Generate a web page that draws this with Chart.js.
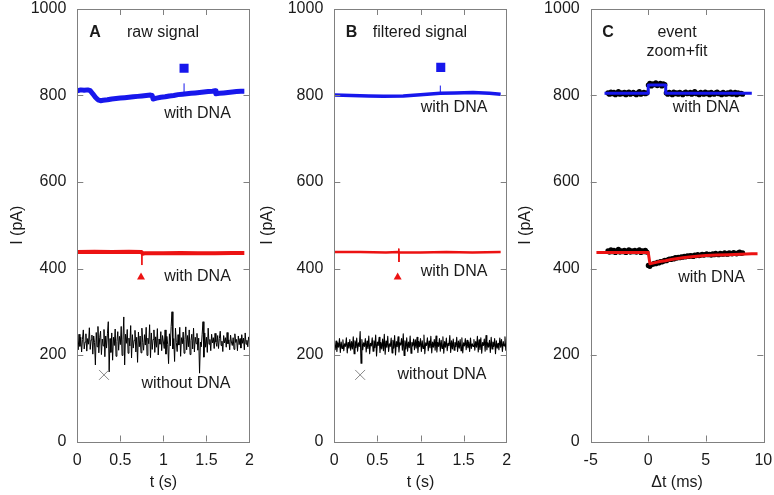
<!DOCTYPE html>
<html>
<head>
<meta charset="utf-8">
<script src="https://cdn.jsdelivr.net/npm/chart.js@4.4.0/dist/chart.umd.min.js"></script>
<style>
  html, body { margin: 0; padding: 0; background: #fff; }
  #wrap { position: relative; width: 774px; height: 495px; overflow: hidden; }
  canvas { position: absolute; top: 0; }
</style>
</head>
<body>
<div id="wrap">
  <canvas id="panelA" width="262" height="495" style="left:0px"></canvas>
  <canvas id="panelB" width="262" height="495" style="left:256px"></canvas>
  <canvas id="panelC" width="260" height="495" style="left:514px"></canvas>
</div>
<script>
/* ---- tick labels ---- */
var xTicksT = ['0', '0.5', '1', '1.5', '2'];
var xTicksDt = ['-5', '0', '5', '10'];
var yTicks = ['0', '200', '400', '600', '800', '1000'];

/* ---- A: raw signal ---- */
var rawBlueT = [0,0.04,0.08,0.12,0.15,0.18,0.21,0.24,0.27,0.30,0.35,0.40,0.45,0.50,0.55,0.60,0.65,0.70,0.75,0.80,0.85,0.87,0.88,0.92,0.97,1.02,1.07,1.12,1.17,1.22,1.27,1.32,1.37,1.42,1.47,1.52,1.57,1.60,1.61,1.65,1.70,1.75,1.80,1.85,1.90,1.94];
var rawBlueI = [811,813,812,813,811,804,796,790,788,789,790,792,793,794,795,796,797,798,799,800,801,800,792,794,796,797,799,800,802,803,804,805,806,807,808,809,810,811,804,805,806,807,808,809,810,810];
var rawBlueSpikeT = [1.24, 1.24];
var rawBlueSpikeI = [805, 828];

var rawRedT = [0,0.2,0.4,0.6,0.745,0.76,0.78,1.0,1.2,1.4,1.6,1.8,1.94];
var rawRedI = [438,439,438,439,438,434,435,435,436,435,435,436,436];
var rawRedSpikeT = [0.75, 0.75];
var rawRedSpikeI = [438, 408];

var rawBlackDt = 0.01;
var rawBlackI = [
  232,212,248,220,241,207,236,258,214,230,
  249,209,238,225,263,213,235,246,202,244,
  229,177,252,219,266,205,240,255,201,237,
  221,259,196,244,216,249,277,161,238,206,
  251,188,241,222,260,197,231,254,211,243,
  224,266,199,235,288,177,248,227,259,204,
  239,221,268,193,247,216,234,257,207,241,
  183,253,219,244,205,262,229,211,247,223,
  264,199,239,226,270,194,251,213,236,258,
  206,242,218,261,200,237,225,254,210,245,
  230,215,258,202,243,224,180,249,221,266,
  300,214,238,185,262,229,208,247,223,264,
  197,240,226,253,204,236,265,212,245,219,
  258,201,233,248,214,262,207,241,226,250,
  211,239,158,230,219,248,277,195,251,218,
  241,206,262,225,236,210,248,228,240,215,
  250,230,220,245,215,238,255,222,232,208,
  245,228,240,218,252,226,235,212,246,230,
  222,240,213,249,229,236,210,244,224,238,
  216,247,227,239,212,251,225,234,219,242
];

/* ---- B: filtered signal ---- */
var filtBlueT = [0,0.2,0.4,0.57,0.8,1.0,1.23,1.4,1.61,1.8,1.93];
var filtBlueI = [801,800,799,798,799,802,805,806,807,805,803];
var filtBlueSpikeT = [1.23, 1.23];
var filtBlueSpikeI = [805, 823];

var filtRedT = [0,0.3,0.6,0.745,0.76,1.0,1.3,1.6,1.93];
var filtRedI = [438,438,437,438,437,437,438,437,438];
var filtRedSpikeT = [0.745, 0.75, 0.755];
var filtRedSpikeI = [446, 415, 437];

var filtBlackDt = 0.01;
var filtBlackI = [
  225,212,232,208,228,218,238,206,230,215,
  235,210,226,220,240,205,229,216,236,211,
  231,214,242,203,233,217,239,209,228,220,
  254,181,236,212,228,220,238,207,232,215,
  244,203,227,221,240,209,233,217,246,198,
  230,222,241,206,229,214,237,210,248,202,
  232,218,243,208,226,220,239,205,234,216,
  245,200,231,219,242,207,228,223,238,211,
  249,199,233,214,240,209,230,217,244,204,
  229,221,237,212,235,216,241,206,231,219,
  238,208,233,215,246,203,228,222,240,210,
  232,217,243,205,230,218,236,211,244,207,
  229,220,238,209,234,215,242,204,231,218,
  239,210,227,222,245,206,233,214,237,211,
  229,219,241,208,232,216,236,210,240,205,
  228,221,238,212,234,217,230,208,239,215,
  226,220,236,211,231,218,243,207,235,213,
  240,204,229,222,237,209,245,212,228,218,
  234,206,241,214,230,220,238,203,233,216,
  227,212,239,218,236,208,231,221,242,210
];

/* event markers: blue square, red triangle, grey cross */
var markSquare = { A: [1.24, 863], B: [1.235, 865] };
var markTriangle = { A: [0.74, 380], B: [0.735, 380] };
var markCross = { A: [0.31, 154], B: [0.30, 154] };

/* ---- C: event zoom + fit ---- */
var evStart = -3.5;
var evDt = 0.13;
var evBlueI = [
  806,803,808,804,807,802,805,809,803,806,
  804,807,802,806,808,803,805,807,804,802,
  806,809,803,805,807,804,806,
  824,828,822,827,825,829,823,826,828,822,827,825,
  806,803,807,805,802,808,804,806,803,807,805,
  802,806,808,804,805,807,803,806,809,804,
  805,802,807,805,803,808,804,806,802,807,
  805,803,806,808,804,805,802,807,805,803,
  806,804,808,803,805,807,802,806,804,805,803
];
var evRedI = [
  441,438,443,439,442,437,440,444,438,441,
  439,442,437,440,443,438,441,439,442,438,
  440,443,437,441,439,442,438,
  407,405,409,
  410,412,411,414,413,416,415,417,419,418,
  420,422,421,423,422,425,424,426,425,427,
  426,428,427,429,428,430,429,428,431,430,
  432,430,431,433,431,432,434,432,433,431,
  434,432,435,433,432,435,434,433,436,434,
  433,436,435,434,437,435,434,436,438,435,436
];
var fitBlueT = [-3.8, 0, 0, 1.52, 1.52, 9.0];
var fitBlueI = [805, 805, 824, 824, 805, 805];
var fitRedT = [-4.5, 0, 0.15, 0.5, 1, 1.5, 2, 3, 4, 5, 6, 7, 8, 9, 9.5];
var fitRedI = [437, 437, 411, 413, 416, 418, 421, 425, 428, 430, 431, 432, 433, 434, 434];

/* ---- helpers ---- */
var FONT = '"Liberation Sans", Arial, sans-serif';
var TEXT = '#1a1a1a';
var AXIS = '#808080';
var BLUE = '#1717ec';
var RED = '#ec1212';

function pairs(ts, vs) {
  return vs.map(function (v, i) { return { x: ts[i], y: v }; });
}
function series(t0, dt, vs) {
  return vs.map(function (v, i) { return { x: t0 + i * dt, y: v }; });
}
function lineSet(data, color, width) {
  return {
    data: data, showLine: true, borderColor: color, borderWidth: width,
    borderJoinStyle: 'round', pointRadius: 0, fill: false
  };
}
function markSet(p, style, color, r) {
  return {
    data: [{ x: p[0], y: p[1] }], showLine: false, pointStyle: style, pointRadius: r,
    backgroundColor: color, borderColor: color, borderWidth: style === 'crossRot' ? 1 : 0
  };
}

//枠と内向きの目盛り、パネル内の文字
var panelFrame = {
  id: 'panelFrame',
  afterDatasetsDraw: function (chart, args, opts) {
    var ctx = chart.ctx, a = chart.chartArea, x = chart.scales.x, y = chart.scales.y;
    ctx.save();
    ctx.strokeStyle = AXIS;
    ctx.lineWidth = 1;
    ctx.beginPath();
    x.ticks.forEach(function (t) {
      var px = Math.round(x.getPixelForValue(t.value)) + 0.5;
      if (px <= a.left + 2 || px >= a.right - 2) return;
      ctx.moveTo(px, a.bottom); ctx.lineTo(px, a.bottom - 6);
      ctx.moveTo(px, a.top); ctx.lineTo(px, a.top + 6);
    });
    y.ticks.forEach(function (t) {
      var py = Math.round(y.getPixelForValue(t.value)) + 0.5;
      if (py <= a.top + 2 || py >= a.bottom - 2) return;
      ctx.moveTo(a.left, py); ctx.lineTo(a.left + 6, py);
      ctx.moveTo(a.right, py); ctx.lineTo(a.right - 6, py);
    });
    ctx.stroke();
    ctx.strokeRect(Math.round(a.left) + 0.5, Math.round(a.top) + 0.5, Math.round(a.right - a.left), Math.round(a.bottom - a.top));
    ctx.textAlign = 'center';
    ctx.textBaseline = 'middle';
    (opts.texts || []).forEach(function (tx) {
      ctx.font = (tx.bold ? 'bold ' : '') + '16px ' + FONT;
      ctx.fillStyle = TEXT;
      ctx.fillText(tx.text, x.getPixelForValue(tx.x), y.getPixelForValue(tx.y));
    });
    ctx.restore();
  }
};

function makePanel(id, o) {
  return new Chart(document.getElementById(id), {
    type: 'scatter',
    data: { datasets: o.datasets },
    options: {
      responsive: false,
      animation: false,
      events: [],
      layout: { padding: { left: 0, top: 9, right: o.padRight, bottom: 0 } },
      plugins: {
        legend: { display: false },
        tooltip: { enabled: false },
        panelFrame: { texts: o.texts }
      },
      scales: {
        x: {
          type: 'linear', min: o.xMin, max: o.xMax,
          grid: { display: false, drawTicks: false },
          border: { display: false },
          ticks: {
            stepSize: o.xStep, autoSkip: false, maxRotation: 0, padding: 9,
            color: TEXT, font: { family: FONT, size: 16 },
            callback: function (v, i) { return o.xLabels[i]; }
          },
          title: { display: true, text: o.xTitle, color: TEXT, font: { family: FONT, size: 16 }, padding: { top: 0, bottom: 3 } },
          afterFit: function (s) { s.height = 53.5; s.paddingLeft = 0; s.paddingRight = 0; }
        },
        y: {
          type: 'linear', min: 0, max: 1000,
          grid: { display: false, drawTicks: false },
          border: { display: false },
          ticks: {
            stepSize: 200, autoSkip: false, padding: 11,
            color: TEXT, font: { family: FONT, size: 16 },
            callback: function (v, i) { return yTicks[i]; }
          },
          title: { display: true, text: 'I (pA)', color: TEXT, font: { family: FONT, size: 16 }, padding: { top: o.titlePad, bottom: 0 } },
          afterFit: function (s) { s.width = o.yWidth; s.paddingTop = 0; s.paddingBottom = 0; }
        }
      }
    },
    plugins: [panelFrame]
  });
}

Chart.defaults.font.family = FONT;

// A
makePanel('panelA', {
  yWidth: 77.3, padRight: 12.5, titlePad: 8.4,
  xMin: 0, xMax: 2, xStep: 0.5, xLabels: xTicksT, xTitle: 't (s)',
  datasets: [
    markSet(markSquare.A, 'rect', BLUE, 6.4),
    markSet(markTriangle.A, 'triangle', RED, 4.6),
    markSet(markCross.A, 'crossRot', '#888888', 7),
    lineSet(pairs(rawBlueSpikeT, rawBlueSpikeI), BLUE, 1),
    lineSet(pairs(rawBlueT, rawBlueI), BLUE, 5),
    lineSet(pairs(rawRedSpikeT, rawRedSpikeI), RED, 1),
    lineSet(pairs(rawRedT, rawRedI), RED, 4),
    lineSet(series(0, rawBlackDt, rawBlackI), '#000000', 1)
  ],
  texts: [
    { text: 'A', x: 0.205, y: 945, bold: true },
    { text: 'raw signal', x: 0.995, y: 945 },
    { text: 'with DNA', x: 1.396, y: 758 },
    { text: 'with DNA', x: 1.396, y: 382 },
    { text: 'without DNA', x: 1.262, y: 135 }
  ]
});

// B
makePanel('panelB', {
  yWidth: 78.3, padRight: 11.3, titlePad: 2.4,
  xMin: 0, xMax: 2, xStep: 0.5, xLabels: xTicksT, xTitle: 't (s)',
  datasets: [
    markSet(markSquare.B, 'rect', BLUE, 6.4),
    markSet(markTriangle.B, 'triangle', RED, 4.6),
    markSet(markCross.B, 'crossRot', '#888888', 7),
    lineSet(pairs(filtBlueSpikeT, filtBlueSpikeI), BLUE, 1),
    lineSet(pairs(filtBlueT, filtBlueI), BLUE, 3.5),
    lineSet(pairs(filtRedSpikeT, filtRedSpikeI), RED, 1),
    lineSet(pairs(filtRedT, filtRedI), RED, 2.5),
    lineSet(series(0, filtBlackDt, filtBlackI), '#000000', 1.1)
  ],
  texts: [
    { text: 'B', x: 0.2, y: 945, bold: true },
    { text: 'filtered signal', x: 0.994, y: 945 },
    { text: 'with DNA', x: 1.389, y: 772 },
    { text: 'with DNA', x: 1.389, y: 394 },
    { text: 'without DNA', x: 1.249, y: 154 }
  ]
});

// C
makePanel('panelC', {
  yWidth: 76.7, padRight: 10.7, titlePad: 2.4,
  xMin: -5, xMax: 10, xStep: 5, xLabels: xTicksDt, xTitle: '\u0394t (ms)',
  datasets: [
    lineSet(pairs(fitBlueT, fitBlueI), BLUE, 3),
    lineSet(pairs(fitRedT, fitRedI), RED, 3),
    { data: series(evStart, evDt, evBlueI), showLine: false, pointRadius: 2.6, backgroundColor: '#000', borderWidth: 0 },
    { data: series(evStart, evDt, evRedI), showLine: false, pointRadius: 2.6, backgroundColor: '#000', borderWidth: 0 }
  ],
  texts: [
    { text: 'C', x: -3.5, y: 945, bold: true },
    { text: 'event', x: 2.5, y: 945 },
    { text: 'zoom+fit', x: 2.5, y: 901 },
    { text: 'with DNA', x: 5.03, y: 771 },
    { text: 'with DNA', x: 5.5, y: 379 }
  ]
});
</script>
</body>
</html>
